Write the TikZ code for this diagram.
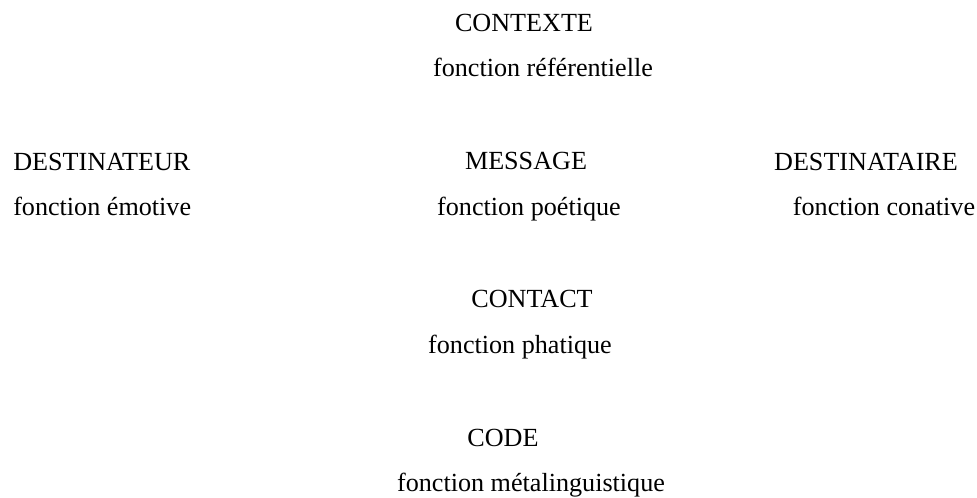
\documentclass[tikz,border=0pt]{standalone}
\usepackage{fontspec}
\setmainfont{Liberation Serif}
\begin{document}
\begin{tikzpicture}[x=0.75pt,y=-0.75pt,
  captxt/.style={inner sep=0pt,anchor=base,font=\fontsize{19.6}{24}\selectfont},
  fntxt/.style={inner sep=0pt,anchor=base,font=\fontsize{19.6}{24}\selectfont}]
\useasboundingbox (0,0) rectangle (977,498);
\node[captxt] (contexte) at (524,32) {CONTEXTE};
\node[fntxt] (fref) at (543,77) {fonction référentielle};
\node[captxt,anchor=base west] (dest) at (13,171) {DESTINATEUR};
\node[fntxt,anchor=base west] (femo) at (13,216) {fonction émotive};
\node[captxt] (message) at (526,170) {MESSAGE};
\node[fntxt] (fpoe) at (529,216) {fonction poétique};
\node[captxt] (destaire) at (866,171) {DESTINATAIRE};
\node[fntxt] (fcon) at (884,216) {fonction conative};
\node[captxt] (contact) at (532,308) {CONTACT};
\node[fntxt] (fpha) at (520,354) {fonction phatique};
\node[captxt] (code) at (503,446) {CODE};
\node[fntxt] (fmeta) at (531,491) {fonction métalinguistique};
\end{tikzpicture}
\end{document}
